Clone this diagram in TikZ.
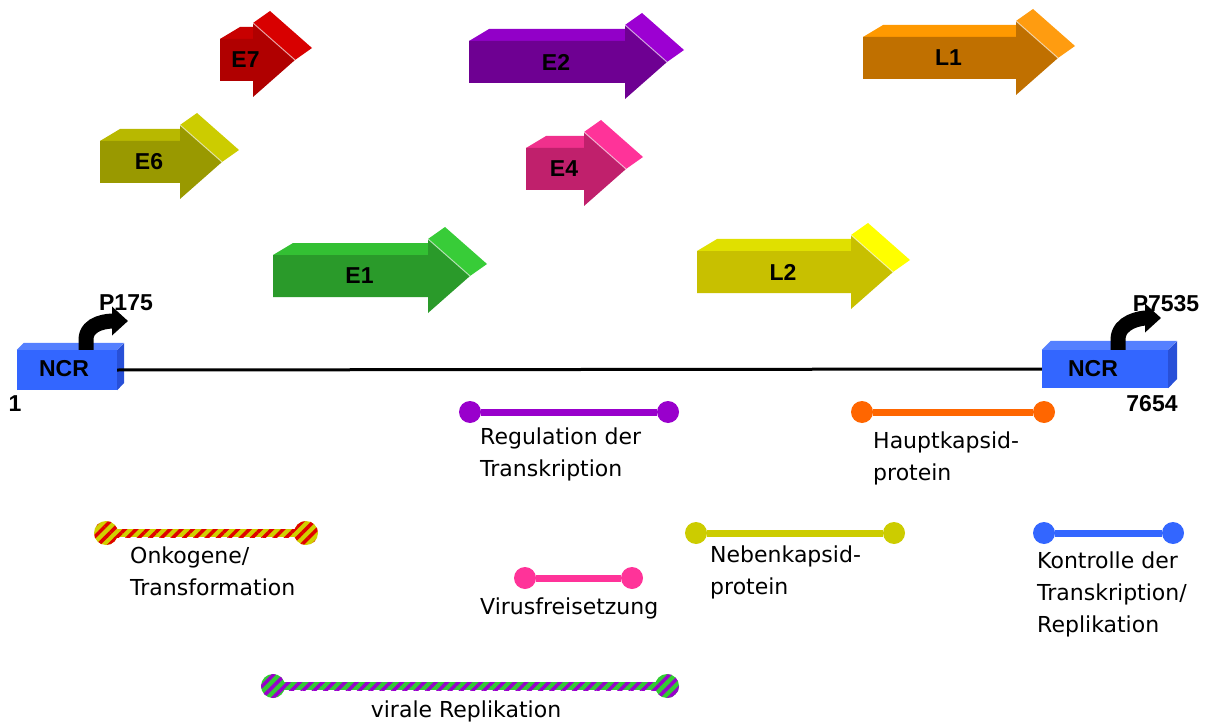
\documentclass[tikz,border=0pt]{standalone}
\usepackage{fontspec}
\setmainfont{Liberation Sans}
\newfontfamily\funcfont{DejaVu Sans}
\usetikzlibrary{arrows.meta,patterns.meta,positioning}

% front / top / head colours of the genes
\definecolor{fE7}{HTML}{B00000}\definecolor{tE7}{HTML}{C80000}\definecolor{hE7}{HTML}{D80000}
\definecolor{fE2}{HTML}{6E0092}\definecolor{tE2}{HTML}{9200C8}\definecolor{hE2}{HTML}{9C00D2}
\definecolor{fL1}{HTML}{C07000}\definecolor{tL1}{HTML}{FF9900}\definecolor{hL1}{HTML}{FF9C10}
\definecolor{fE6}{HTML}{999900}\definecolor{tE6}{HTML}{B8B800}\definecolor{hE6}{HTML}{CCCC00}
\definecolor{fE4}{HTML}{C0206C}\definecolor{tE4}{HTML}{F0308C}\definecolor{hE4}{HTML}{FF3399}
\definecolor{fE1}{HTML}{2A9A2A}\definecolor{tE1}{HTML}{33C033}\definecolor{hE1}{HTML}{38CC38}
\definecolor{fL2}{HTML}{C8C000}\definecolor{tL2}{HTML}{E0E000}\definecolor{hL2}{HTML}{FFFF00}
\definecolor{ncrfront}{HTML}{3366FF}\definecolor{ncrtop}{HTML}{5580FF}\definecolor{ncrside}{HTML}{2850D8}
\definecolor{regcol}{HTML}{9900CC}\definecolor{hkpcol}{HTML}{FF6600}
\definecolor{nkpcol}{HTML}{CCCC00}\definecolor{kontcol}{HTML}{3366FF}
\definecolor{viruscol}{HTML}{FF3399}\definecolor{onkyel}{HTML}{D0D000}
\definecolor{onkred}{HTML}{E00000}\definecolor{replgreen}{HTML}{33CC33}
\definecolor{replpurple}{HTML}{9900CC}

\begin{document}
\begin{tikzpicture}[x=1pt,y=-1pt,
    genlabel/.style={font=\bfseries\fontsize{23}{27}\selectfont,inner sep=0pt},
    funclabel/.style={font=\funcfont\fontsize{22}{32}\selectfont,align=left,anchor=north west,inner sep=0pt},
    endpt/.style={circle,fill=#1,minimum size=22pt,inner sep=0pt},
    fbar/.style={line width=7pt,#1},
    stripe/.style 2 args={preaction={fill=#1},pattern={Lines[angle=45,distance=8pt,line width=3.5pt]},pattern color=#2},
    promo/.style={line width=15pt,-{Triangle[width=28pt,length=16pt]}}]
  \useasboundingbox (0,0) rectangle (1210,722);

  % gene arrows
  \foreach \gname/\xa/\xt/\yc in {E7/220/295/60, E2/469/667/62, L1/863/1058/58,
      E6/100/222/162, E4/526/626/169, E1/273/470/276, L2/697/893/272}{
    \pgfmathsetmacro{\xb}{\xt-42}
    \fill[t\gname] (\xa,\yc-21) -- (\xa+20,\yc-33) -- (\xb,\yc-33) -- (\xb,\yc-21) -- cycle;
    \fill[h\gname] (\xb,\yc-37) -- (\xb+17,\yc-49) -- (\xt+17,\yc-12) -- (\xt,\yc) -- cycle;
    \fill[f\gname] (\xa,\yc-21) -- (\xb,\yc-21) -- (\xb,\yc-37) -- (\xt,\yc)
      -- (\xb,\yc+37) -- (\xb,\yc+21) -- (\xa,\yc+21) -- cycle;
    \draw[white,opacity=.6,line width=1pt] (\xb,\yc-37) -- (\xt,\yc);
    \node[genlabel] (\gname) at ({(\xa+\xt)/2-12},\yc) {\gname};
  }

  % NCR boxes
  \node[fill=ncrfront,minimum width=100pt,minimum height=40pt,inner sep=0pt] (ncrL) at (67,370) {};
  \fill[ncrtop] (ncrL.north west) -- ++(7,-7) -- ++(100,0) -- (ncrL.north east) -- cycle;
  \fill[ncrside] (ncrL.north east) -- ++(7,-7) -- ++(0,40) -- (ncrL.south east) -- cycle;
  \node[fill=ncrfront,minimum width=126pt,minimum height=38pt,inner sep=0pt] (ncrR) at (1105,369) {};
  \fill[ncrtop] (ncrR.north west) -- ++(9,-9) -- ++(126,0) -- (ncrR.north east) -- cycle;
  \fill[ncrside] (ncrR.north east) -- ++(9,-9) -- ++(0,38) -- (ncrR.south east) -- cycle;
  \node[genlabel] (ncrLtxt) at (64,369) {NCR};
  \node[genlabel] (ncrRtxt) at (1093,369) {NCR};
  \draw[line width=3pt] (ncrL.east) -- (ncrR.west);

  % promoters
  \draw[promo] ([xshift=19pt]ncrL.north) -- ++(0,-10) to[out=90,in=180] (128,321);
  \draw[promo] ([xshift=13pt]ncrR.north) -- ++(0,-10) to[out=90,in=180] (1161,318);
  \node[genlabel] (p175) at (126,303) {P175};
  \node[genlabel] (p7535) at (1166,304) {P7535};
  \node[genlabel] (pos1) at (15,404) {1};
  \node[genlabel] (pos7654) at (1152,404) {7654};

  % functions
  \node[endpt=regcol] (regA) at (470,412) {};
  \node[endpt=regcol] (regB) at (668,412) {};
  \draw[fbar=regcol] (regA) -- (regB);
  \node[funclabel] (regtxt) at (480,428) {Regulation der\\Transkription};

  \node[endpt=hkpcol] (hkpA) at (862,412) {};
  \node[endpt=hkpcol] (hkpB) at (1044,412) {};
  \draw[fbar=hkpcol] (hkpA) -- (hkpB);
  \node[funclabel] (hkptxt) at (873,432) {Hauptkapsid-\\protein};

  \node[endpt=nkpcol] (nkpA) at (696,533) {};
  \node[endpt=nkpcol] (nkpB) at (894,533) {};
  \draw[fbar=nkpcol] (nkpA) -- (nkpB);
  \node[funclabel] (nkptxt) at (710,546) {Nebenkapsid-\\protein};

  \node[endpt=kontcol] (kontA) at (1044,533) {};
  \node[endpt=kontcol] (kontB) at (1173,533) {};
  \draw[fbar=kontcol] (kontA) -- (kontB);
  \node[funclabel] (konttxt) at (1037,552) {Kontrolle der\\Transkription/\\Replikation};

  \node[endpt=viruscol] (virA) at (525,578) {};
  \node[endpt=viruscol] (virB) at (632,578) {};
  \draw[fbar=viruscol] (virA) -- (virB);
  \node[funclabel] (virtxt) at (480,598) {Virusfreisetzung};

  \node[circle,minimum size=24pt,inner sep=0pt,stripe={onkyel}{onkred}] (onkA) at (106,533) {};
  \node[circle,minimum size=24pt,inner sep=0pt,stripe={onkyel}{onkred}] (onkB) at (306,533) {};
  \path[stripe={onkyel}{onkred}] ([yshift=4pt]onkA.center) rectangle ([yshift=-4pt]onkB.center);
  \node[funclabel] (onktxt) at (130,547) {Onkogene/\\Transformation};

  \node[circle,minimum size=24pt,inner sep=0pt,stripe={replgreen}{replpurple}] (replA) at (273,686) {};
  \node[circle,minimum size=24pt,inner sep=0pt,stripe={replgreen}{replpurple}] (replB) at (667,686) {};
  \path[stripe={replgreen}{replpurple}] ([yshift=4pt]replA.center) rectangle ([yshift=-4pt]replB.center);
  \node[funclabel,anchor=north] (repltxt) at (466,701) {virale Replikation};
\end{tikzpicture}
\end{document}
